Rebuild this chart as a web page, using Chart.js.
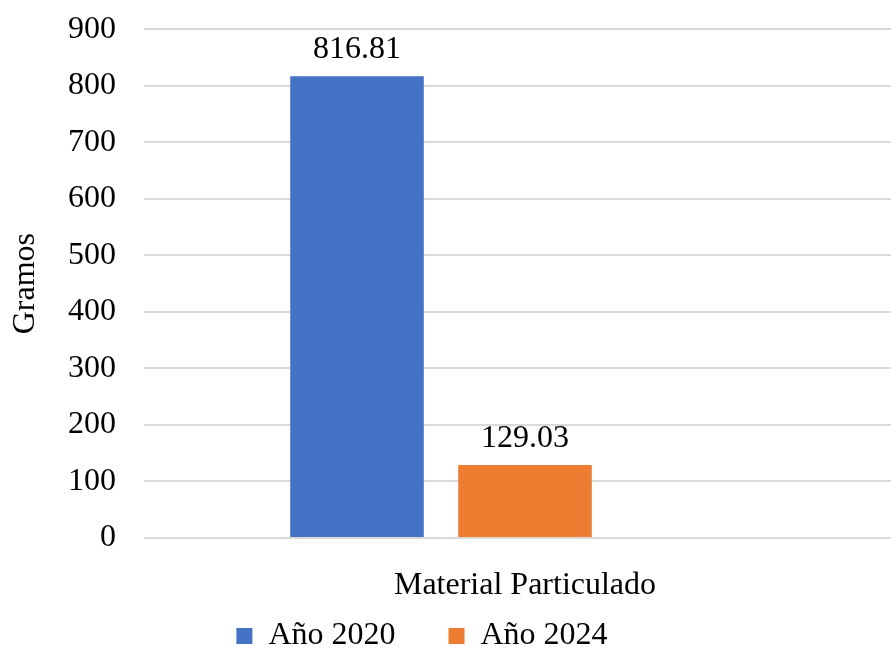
<!DOCTYPE html>
<html>
<head>
<meta charset="utf-8">
<script src="https://cdn.jsdelivr.net/npm/chart.js@4/dist/chart.umd.min.js"></script>
<style>
  html, body { margin: 0; padding: 0; background: #fff; overflow: hidden; width: 891px; height: 648px; }
  #wrap { width: 906px; height: 666px; position: absolute; left: 0; top: -18px; }
</style>
</head>
<body>
<div id="wrap"><canvas id="grafico"></canvas></div>
<script>
// Material particulado por año
const categorias = ['Material Particulado']
const anio2020 = [816.81]
const anio2024 = [129.03]
const vacio = [null]   // tercera serie sin datos (ocupa su hueco en el grupo)
const ticksY = [0, 100, 200, 300, 400, 500, 600, 700, 800, 900]

const fuente = "'Liberation Serif', 'Times New Roman', serif"
Chart.defaults.font.family = fuente
Chart.defaults.color = '#000'

// etiquetas de valor encima de cada barra
const etiquetasValor = {
  id: 'etiquetasValor',
  afterDatasetsDraw(chart) {
    const ctx = chart.ctx
    ctx.save()
    ctx.font = '32px ' + fuente
    ctx.fillStyle = '#000'
    ctx.textAlign = 'center'
    ctx.textBaseline = 'alphabetic'
    chart.data.datasets.forEach((ds, i) => {
      chart.getDatasetMeta(i).data.forEach((bar, j) => {
        if (ds.data[j] == null) return
        ctx.fillText(ds.data[j].toFixed(2), bar.x, bar.y - 18)
      })
    })
    ctx.restore()
  }
}

// mueve la leyenda a su sitio bajo el gráfico
const moverLeyenda = {
  id: 'moverLeyenda',
  afterLayout(chart) {
    const lg = chart.legend
    lg.left -= 31; lg.right -= 31
    lg.top -= 43; lg.bottom = chart.height
  }
}

new Chart(document.getElementById('grafico'), {
  type: 'bar',
  data: {
    labels: categorias,
    datasets: [
      { label: 'Año 2020', data: anio2020, backgroundColor: '#4472C4' },
      { label: 'Año 2024', data: anio2024, backgroundColor: '#ED7D31' },
      { label: '', data: vacio, backgroundColor: 'rgba(0,0,0,0)' }
    ]
  },
  options: {
    responsive: true,
    maintainAspectRatio: false,
    animation: false,
    categoryPercentage: 0.6614,
    barPercentage: 0.795,
    plugins: {
      tooltip: { enabled: false },
      legend: {
        position: 'bottom',
        maxHeight: 38,
        labels: {
          font: { size: 32 },
          boxWidth: 16,
          boxHeight: 16,
          padding: 53,
          filter: item => item.text !== ''
        }
      }
    },
    scales: {
      x: {
        grid: { display: false },
        border: { display: false },
        ticks: { font: { size: 32 }, padding: 20 },
        afterFit(axis) { axis.height = 72 }
      },
      y: {
        min: 0,
        max: 900,
        afterBuildTicks(axis) { axis.ticks = ticksY.map(v => ({ value: v })) },
        grid: { color: '#d9d9d9', lineWidth: 2, drawTicks: false },
        border: { display: false },
        ticks: { font: { size: 32 }, padding: 28 },
        title: { display: true, text: 'Gramos', font: { size: 32 }, padding: 6 },
        afterFit(axis) { axis.width = 144 }
      }
    }
  },
  plugins: [etiquetasValor, moverLeyenda]
})
</script>
</body>
</html>
